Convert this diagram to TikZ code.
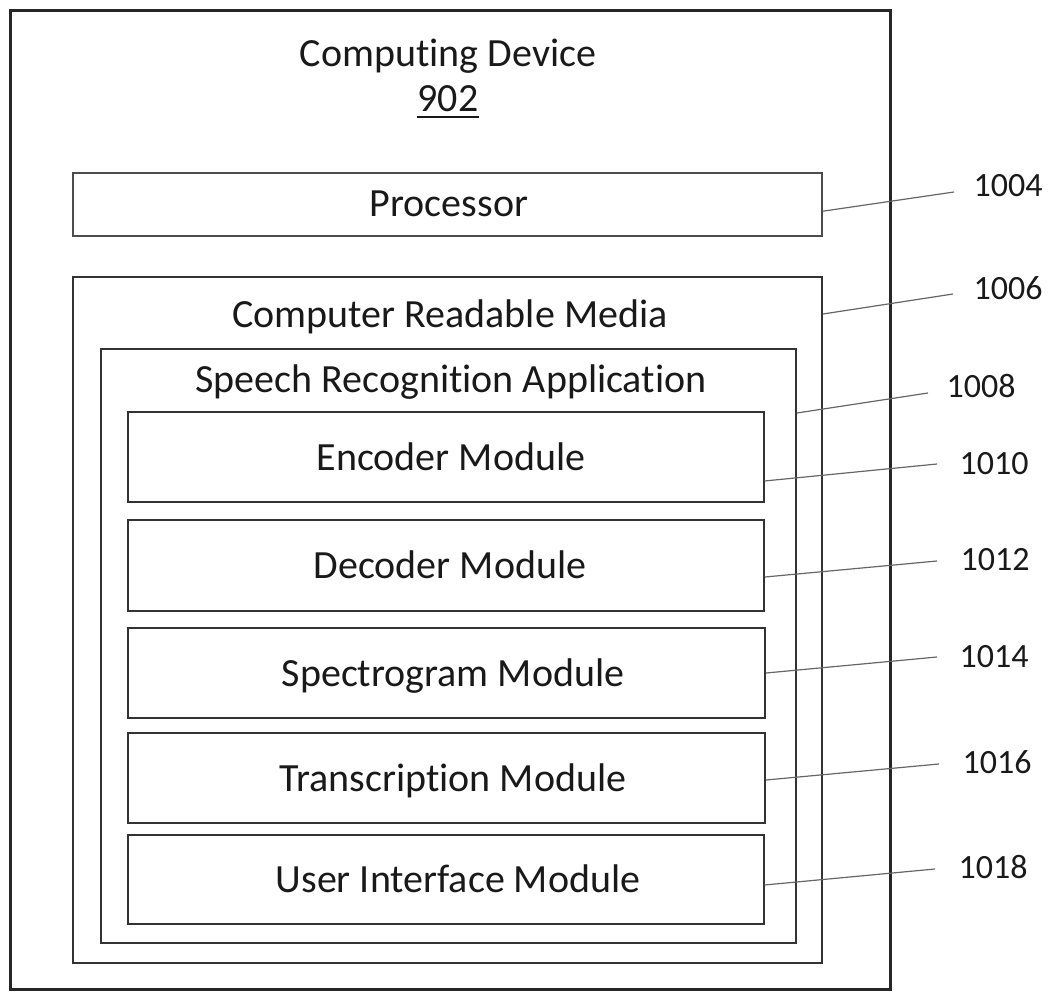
\documentclass[tikz,border=0pt]{standalone}
\usepackage{fontspec}
\setmainfont[RawFeature={-liga;-dlig}]{Carlito}
\usetikzlibrary{fit}
\begin{document}
\begin{tikzpicture}[x=1pt,y=-1pt,
  frame/.style={draw=black!80, line width=2pt, inner sep=0pt},
  thinframe/.style={draw=black!70, line width=1.6pt, inner sep=0pt},
  outerframe/.style={draw=black!85, line width=3pt, inner sep=0pt},
  lbl/.style={font=\fontsize{40}{48}\selectfont, text=black!90, inner sep=0pt, anchor=base},
  num/.style={font=\fontsize{34}{40}\selectfont, text=black!90, inner sep=0pt, anchor=base},
  leader/.style={draw=black!60, line width=1.2pt}]
\useasboundingbox (0,0) rectangle (1050,992);

% nested boxes
\node[outerframe, fit={(10.5,10.5) (890.5,989.5)}] (dev) {};
\node[thinframe, fit={(73,173) (822,236)}] (proc) {};
\node[frame, fit={(73,277) (822,963)}] (crm) {};
\node[frame, fit={(100.5,349) (796,943)}] (sra) {};
\node[frame, fit={(127.5,412) (763.5,502)}] (enc) {};
\node[frame, fit={(127.5,519.5) (764,610.5)}] (dec) {};
\node[frame, fit={(127.5,628) (765,718)}] (spec) {};
\node[frame, fit={(127.5,733) (765,823)}] (trans) {};
\node[frame, fit={(127.5,835) (763.5,924)}] (ui) {};

% box titles
\node[lbl] (tdev) at (448,67) {Computing Device};
\node[lbl] (n902) at (448,112) {902};
\draw[black!90, line width=2pt] ([yshift=-5pt]n902.base west) -- ([yshift=-5pt]n902.base east);
\node[lbl] (tproc) at (449,217) {Processor};
\node[lbl] (tcrm) at (450,328) {Computer Readable Media};
\node[lbl] (tsra) at (451,392) {Speech Recognition Application};
\node[lbl] (tenc) at (451,470) {Encoder Module};
\node[lbl] (tdec) at (450,578) {Decoder Module};
\node[lbl] (tspec) at (453,686) {Spectrogram Module};
\node[lbl] (ttrans) at (453,791) {Transcription Module};
\node[lbl] (tui) at (458,892) {User Interface Module};

% reference numerals
\node[num] (r1004) at (1008,197) {1004};
\node[num] (r1006) at (1008,300) {1006};
\node[num] (r1008) at (981,398) {1008};
\node[num] (r1010) at (994,474.5) {1010};
\node[num] (r1012) at (995,570.5) {1012};
\node[num] (r1014) at (994,667) {1014};
\node[num] (r1016) at (997,773) {1016};
\node[num] (r1018) at (993,878) {1018};

% free ends of the leader lines
\coordinate (e1004) at (954,192);
\coordinate (e1006) at (953,294);
\coordinate (e1008) at (928,393);
\coordinate (e1010) at (937,464);
\coordinate (e1012) at (937,561);
\coordinate (e1014) at (937,657);
\coordinate (e1016) at (939,764);
\coordinate (e1018) at (935,869);

% leader lines
\draw[leader] ([yshift=-39pt]proc.north east) -- (e1004);
\draw[leader] ([yshift=-38pt]crm.north east) -- (e1006);
\draw[leader] ([yshift=-65pt]sra.north east) -- (e1008);
\draw[leader] ([yshift=-70pt]enc.north east) -- (e1010);
\draw[leader] ([yshift=-58.5pt]dec.north east) -- (e1012);
\draw[leader] ([yshift=-46pt]spec.north east) -- (e1014);
\draw[leader] ([yshift=-48pt]trans.north east) -- (e1016);
\draw[leader] ([yshift=-51pt]ui.north east) -- (e1018);
\end{tikzpicture}
\end{document}
